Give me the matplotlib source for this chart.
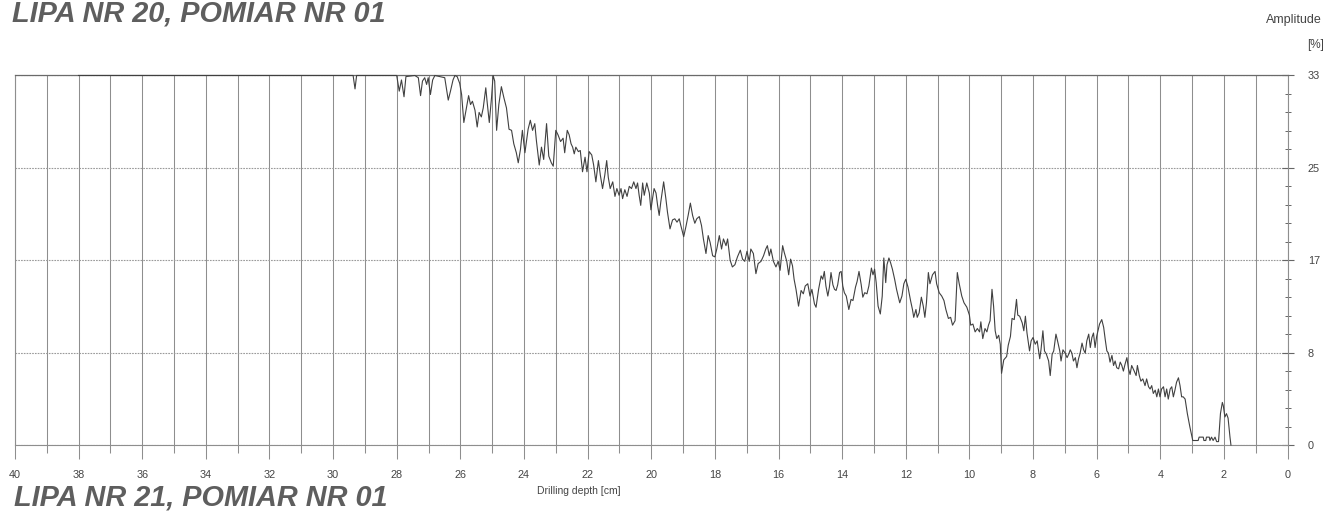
import matplotlib.pyplot as plt

plt.rcParams['font.family'] = ['Liberation Sans', 'DejaVu Sans']

# resistograph trace: drilling depth [cm] vs amplitude [%]
depth_cm = [
    38.0, 29.37, 29.31, 29.26, 28.0,
    27.92, 27.85, 27.77, 27.71, 27.43, 27.32, 27.25, 27.19, 27.12, 27.06,
    27.01, 26.94, 26.87, 26.80, 26.49, 26.43, 26.38, 26.31, 26.23, 26.17,
    26.10, 26.02, 25.96, 25.89, 25.81, 25.74, 25.68, 25.62, 25.54, 25.47,
    25.41, 25.34, 25.28, 25.20, 25.16, 25.09, 25.02, 24.97, 24.92, 24.86,
    24.79, 24.71, 24.63, 24.55, 24.47, 24.39, 24.32, 24.24, 24.18, 24.11,
    24.05, 23.97, 23.87, 23.80, 23.73, 23.66, 23.61, 23.52, 23.45, 23.38,
    23.29, 23.22, 23.14, 23.08, 23.00, 22.93, 22.85, 22.77, 22.72, 22.64,
    22.58, 22.52, 22.47, 22.42, 22.37, 22.29, 22.23, 22.16, 22.08, 22.02,
    21.95, 21.87, 21.81, 21.74, 21.66, 21.60, 21.53, 21.46, 21.40, 21.35,
    21.29, 21.21, 21.14, 21.08, 21.01, 20.95, 20.90, 20.83, 20.76, 20.69,
    20.62, 20.55, 20.48, 20.43, 20.38, 20.33, 20.27, 20.22, 20.14, 20.06,
    20.01, 19.96, 19.91, 19.85, 19.80, 19.75, 19.70, 19.61, 19.54, 19.49,
    19.41, 19.33, 19.26, 19.19, 19.12, 19.07, 18.98, 18.91, 18.84, 18.77,
    18.70, 18.63, 18.57, 18.49, 18.42, 18.36, 18.28, 18.21, 18.15, 18.07,
    18.00, 17.94, 17.86, 17.79, 17.73, 17.65, 17.60, 17.52, 17.45, 17.37,
    17.29, 17.20, 17.13, 17.06, 16.99, 16.92, 16.87, 16.79, 16.71, 16.64,
    16.55, 16.47, 16.40, 16.35, 16.29, 16.24, 16.16, 16.08, 16.01, 15.95,
    15.87, 15.82, 15.74, 15.68, 15.62, 15.56, 15.51, 15.45, 15.37, 15.29,
    15.22, 15.16, 15.08, 15.01, 14.95, 14.87, 14.82, 14.74, 14.66, 14.61,
    14.56, 14.51, 14.45, 14.40, 14.35, 14.29, 14.24, 14.19, 14.14, 14.08,
    14.03, 13.98, 13.93, 13.87, 13.79, 13.72, 13.66, 13.58, 13.53, 13.47,
    13.40, 13.35, 13.29, 13.22, 13.16, 13.08, 13.03, 12.98, 12.93, 12.87,
    12.80, 12.74, 12.69, 12.63, 12.59, 12.53, 12.48, 12.42, 12.35, 12.29,
    12.24, 12.19, 12.12, 12.06, 12.00, 11.93, 11.85, 11.79, 11.75, 11.68,
    11.64, 11.58, 11.51, 11.45, 11.40, 11.35, 11.29, 11.24, 11.16, 11.08,
    11.03, 10.95, 10.87, 10.80, 10.74, 10.66, 10.59, 10.53, 10.45, 10.38,
    10.32, 10.24, 10.17, 10.08, 10.00, 9.96, 9.89, 9.82, 9.75, 9.68,
    9.64, 9.58, 9.51, 9.45, 9.40, 9.35, 9.29, 9.24, 9.19, 9.14,
    9.08, 9.03, 8.99, 8.92, 8.83, 8.78, 8.71, 8.66, 8.59, 8.52,
    8.48, 8.42, 8.34, 8.29, 8.24, 8.19, 8.11, 8.06, 8.00, 7.93,
    7.87, 7.79, 7.75, 7.69, 7.64, 7.58, 7.51, 7.46, 7.40, 7.35,
    7.28, 7.23, 7.16, 7.12, 7.06, 6.99, 6.93, 6.88, 6.83, 6.78,
    6.73, 6.67, 6.62, 6.57, 6.52, 6.46, 6.41, 6.36, 6.31, 6.25,
    6.20, 6.15, 6.10, 6.05, 6.00, 5.91, 5.84, 5.78, 5.73, 5.68,
    5.63, 5.58, 5.52, 5.47, 5.42, 5.37, 5.31, 5.26, 5.21, 5.16,
    5.11, 5.05, 5.00, 4.95, 4.90, 4.82, 4.76, 4.72, 4.66, 4.61,
    4.55, 4.48, 4.43, 4.37, 4.32, 4.27, 4.22, 4.16, 4.11, 4.06,
    4.01, 3.96, 3.90, 3.85, 3.80, 3.75, 3.69, 3.64, 3.59, 3.54,
    3.49, 3.43, 3.38, 3.33, 3.28, 3.22, 3.15, 3.07, 2.98, 2.81,
    2.78, 2.65, 2.63, 2.57, 2.55, 2.46, 2.44, 2.39, 2.34, 2.28,
    2.23, 2.17, 2.11, 2.05, 2.02, 1.97, 1.92, 1.87, 1.81, 1.78,
]
amplitude = [
    33.0, 33.0, 31.8, 33.0, 33.0,
    31.6, 32.6, 31.1, 32.9, 33.0, 32.8, 31.2, 32.5, 32.8, 32.2,
    32.8, 31.3, 32.6, 33.0, 32.8, 31.7, 30.8, 31.6, 32.6, 33.0,
    32.9, 32.3, 31.3, 28.8, 30.1, 31.2, 30.4, 30.7, 29.9, 28.4,
    29.7, 29.3, 30.1, 31.9, 30.7, 28.8, 31.0, 33.0, 32.5, 28.1,
    30.4, 32.0, 31.0, 30.1, 28.2, 28.1, 26.9, 26.1, 25.2, 26.4,
    28.1, 26.1, 28.2, 29.0, 28.1, 28.7, 27.2, 25.0, 26.6, 25.5,
    28.7, 25.8, 25.2, 24.9, 28.1, 27.7, 27.1, 27.4, 26.1, 28.1,
    27.7, 26.9, 26.6, 26.0, 26.6, 26.2, 26.3, 24.4, 25.7, 24.4,
    26.2, 25.9, 25.0, 23.5, 25.4, 24.1, 22.9, 24.1, 25.4, 23.9,
    22.9, 23.5, 22.2, 22.9, 22.3, 22.9, 22.0, 22.8, 22.2, 23.1,
    22.9, 23.5, 22.9, 23.4, 22.3, 21.4, 23.4, 22.3, 23.4, 22.5,
    21.0, 22.0, 22.9, 22.5, 21.4, 20.5, 21.7, 23.5, 22.0, 20.8,
    19.3, 20.1, 20.2, 19.9, 20.2, 19.6, 18.6, 19.5, 20.5, 21.6,
    20.5, 19.8, 20.2, 20.4, 19.6, 18.4, 17.1, 18.7, 18.1, 16.9,
    16.8, 17.5, 18.7, 17.5, 18.4, 17.8, 18.4, 16.5, 15.9, 16.1,
    16.8, 17.4, 16.6, 16.4, 17.3, 16.4, 17.5, 17.1, 15.3, 16.2,
    16.4, 16.9, 17.5, 17.8, 16.9, 17.5, 16.4, 15.9, 16.4, 15.6,
    17.8, 17.2, 16.4, 15.2, 16.6, 16.0, 14.8, 13.9, 12.4, 13.8,
    13.5, 14.2, 14.4, 13.3, 13.9, 12.6, 12.3, 13.9, 15.1, 14.8,
    15.5, 14.2, 13.3, 14.1, 15.4, 14.3, 13.9, 13.8, 14.3, 15.4,
    15.5, 14.2, 13.6, 13.3, 12.1, 13.0, 12.9, 14.1, 14.6, 15.5,
    14.3, 13.2, 13.6, 13.5, 14.2, 15.8, 15.2, 15.7, 14.5, 12.4,
    11.7, 13.3, 16.7, 14.5, 16.1, 16.7, 16.3, 15.7, 14.8, 13.9,
    13.3, 12.7, 13.3, 14.4, 14.8, 14.1, 12.9, 12.1, 11.4, 12.1,
    11.4, 11.8, 13.2, 12.4, 11.4, 12.7, 15.4, 14.4, 15.2, 15.5,
    14.4, 13.6, 13.3, 12.9, 12.1, 11.3, 11.4, 10.7, 11.1, 15.4,
    14.4, 13.3, 12.7, 12.3, 11.6, 10.7, 10.8, 10.1, 10.4, 10.1,
    11.0, 9.5, 10.4, 10.1, 10.7, 11.1, 13.9, 12.4, 10.2, 9.5,
    9.8, 9.0, 6.4, 7.6, 7.9, 8.9, 9.7, 11.3, 11.2, 13.0,
    11.6, 11.5, 10.9, 10.2, 11.5, 10.0, 8.4, 9.3, 9.6, 9.0,
    9.3, 7.7, 8.5, 10.2, 8.4, 8.1, 7.5, 6.2, 8.1, 8.4,
    9.9, 9.3, 8.4, 7.5, 8.5, 8.2, 7.8, 8.1, 8.5, 8.2,
    7.5, 7.8, 6.9, 7.7, 8.2, 9.1, 8.5, 8.2, 9.3, 9.9,
    8.7, 9.6, 10.0, 8.7, 9.7, 10.8, 11.2, 10.5, 9.4, 8.4,
    8.2, 7.4, 8.0, 7.1, 7.5, 6.9, 6.8, 7.4, 7.1, 6.6,
    7.2, 7.8, 6.8, 6.3, 7.1, 6.6, 6.2, 7.1, 6.2, 5.7,
    5.9, 5.3, 5.9, 5.2, 5.0, 5.3, 4.6, 4.9, 4.3, 5.0,
    4.3, 5.0, 5.2, 4.3, 5.0, 4.1, 5.0, 5.2, 4.3, 4.9,
    5.6, 6.0, 5.3, 4.3, 4.3, 4.1, 2.8, 1.6, 0.4, 0.4,
    0.7, 0.7, 0.4, 0.4, 0.7, 0.7, 0.4, 0.7, 0.4, 0.7,
    0.3, 0.3, 2.8, 3.8, 3.5, 2.5, 2.8, 2.4, 0.7, 0.0,
]

amp_levels = [0, 8.25, 16.5, 24.75, 33]
amp_labels = ['0', '8', '17', '25', '33']
depth_major = list(range(0, 41, 2))
depth_minor = list(range(1, 40, 2))

fig = plt.figure(figsize=(13.3, 5.11), dpi=100)
ax = fig.add_axes([0.0112, 0.1292, 0.9569, 0.7231])

ax.plot(depth_cm, amplitude, color='#404040', lw=0.8, clip_on=False, zorder=3)

ax.set_xlim(40, 0)
ax.set_ylim(0, 33)

ax.set_xticks(depth_major)
ax.set_xticks(depth_minor, minor=True)
ax.set_xticklabels([str(d) for d in depth_major])
ax.grid(which='both', axis='x', color='#8e8e8e', lw=0.75)

ax.yaxis.tick_right()
ax.set_yticks(amp_levels)
ax.set_yticklabels(amp_labels)
ax.set_yticks([i * 1.65 for i in range(21)], minor=True)
ax.grid(which='major', axis='y', color='#9a9a9a', lw=0.8, ls=(0, (1.5, 1)))

ax.tick_params(axis='x', which='major', direction='out', length=10, width=0.75,
               color='#8e8e8e', labelsize=7.8, labelcolor='#444444', pad=8)
ax.tick_params(axis='x', which='minor', direction='out', length=6, width=0.75,
               color='#8e8e8e')
ax.tick_params(axis='y', which='major', direction='inout', length=9, width=0.8,
               color='#666666', labelsize=7.8, labelcolor='#444444', pad=10)
ax.tick_params(axis='y', which='minor', direction='inout', length=5, width=0.7,
               color='#666666')

for side in ['left', 'right', 'bottom']:
    ax.spines[side].set_color('#8e8e8e')
    ax.spines[side].set_linewidth(0.8)
ax.spines['top'].set_color('#6a6a6a')
ax.spines['top'].set_linewidth(0.9)

fig.text(12 / 1330, 1 - 22 / 511, 'LIPA NR 20, POMIAR NR 01', fontsize=20.8,
         fontweight='bold', fontstyle='italic', color='#5e5e5e', va='baseline')
fig.text(14 / 1330, 1 - 505 / 511, 'LIPA NR 21, POMIAR NR 01', fontsize=20.8,
         fontweight='bold', fontstyle='italic', color='#5e5e5e', va='baseline')

fig.text(537 / 1330, 1 - 491 / 511, 'Drilling depth [cm]', fontsize=7.5,
         color='#444444', va='center')
fig.text(1322 / 1330, 1 - 20 / 511, 'Amplitude', fontsize=9,
         color='#444444', va='center', ha='right')
fig.text(1316 / 1330, 1 - 45 / 511, '[%]', fontsize=8.5,
         color='#444444', va='center', ha='center')

fig.savefig('out.png', dpi=100, facecolor='white')
